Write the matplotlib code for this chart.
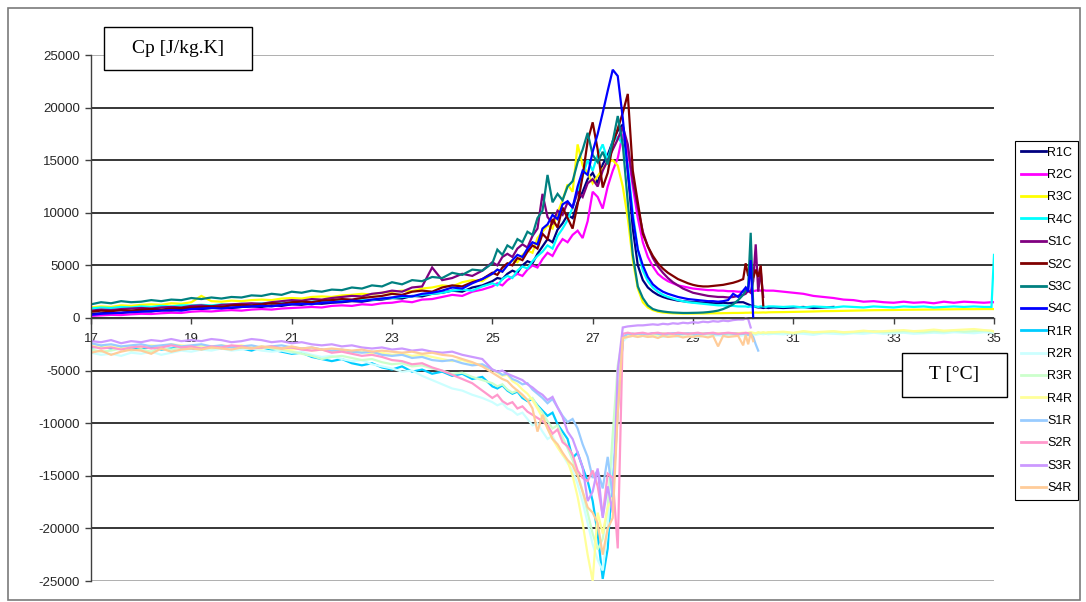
import numpy as np
import matplotlib
matplotlib.use("Agg")
import matplotlib.pyplot as plt
from matplotlib.patches import Rectangle

plt.rcParams["font.family"] = ["Liberation Sans", "DejaVu Sans"]
plt.rcParams["axes.unicode_minus"] = False

NA = np.nan

# Temperature sampling [°C]
T_LOW = [17.0, 17.2, 17.4, 17.6, 17.8, 18.0, 18.2, 18.4, 18.6, 18.8,
         19.0, 19.2, 19.4, 19.6, 19.8, 20.0, 20.2, 20.4, 20.6, 20.8,
         21.0, 21.2, 21.4, 21.6, 21.8, 22.0, 22.2, 22.4, 22.6, 22.8,
         23.0, 23.2, 23.4, 23.6, 23.8, 24.0, 24.2, 24.4, 24.6, 24.8]
T_MID = [25.0, 25.1, 25.2, 25.3, 25.4, 25.5, 25.6, 25.7, 25.8, 25.9,
         26.0, 26.1, 26.2, 26.3, 26.4, 26.5, 26.6, 26.7, 26.8, 26.9,
         27.0, 27.1, 27.2, 27.3, 27.4, 27.5, 27.6, 27.7, 27.8, 27.9,
         28.0, 28.1, 28.2, 28.3, 28.4, 28.5, 28.6, 28.7, 28.8, 28.9,
         29.0, 29.1, 29.2, 29.3, 29.4, 29.5, 29.6, 29.7, 29.8, 29.9,
         30.0]
T_END = [30.05, 30.1, 30.15, 30.2, 30.25, 30.3, 30.35, 30.4, 30.45, 30.5]
T_TAIL = [30.6, 30.8, 31.0, 31.2, 31.4, 31.6, 31.8, 32.0, 32.2, 32.4,
          32.6, 32.8, 33.0, 33.2, 33.4, 33.6, 33.8, 34.0, 34.2, 34.4,
          34.6, 34.8, 34.95, 35.0]

# ---- heating runs, Cp [J/kg.K] ----
R1C = [400, 450, 500, 480, 600,
       650, 620, 750, 700, 820,
       900, 850, 950, 1000, 950,
       1050, 1100, 1050, 1200, 1150,
       1300, 1250, 1400, 1350, 1450,
       1500, 1600, 1550, 1700, 1750,
       1900, 1850, 2100, 2050, 2300,
       2400, 2600, 2500, 2900, 3100,
       3500, 3800, 3700, 4200, 4500, 4300, 5000, 5400, 5200, 6100,
       6800, 7500, 7200, 8400, 9000, 9800, 9500, 11000, 12000, 13200,
       13800, 12800, 14600, 15500, 16800, 17800, 18400, 14000, 8500, 5000,
       3600, 2900, 2500, 2200, 2000, 1850, 1750, 1650, 1600, 1550,
       1500, 1500, 1450, 1450, 1400, 1400, 1450, 1400, 1450, 1500,
       1500,
       1400, 1300, 1200, 1100, 1050, 1000, 1000, 950, 1000, 950]
R1C_TAIL = [1000, 950, 1000, 1050, 950, 1000, 1050]

R2C = [200, 250, 300, 280, 350,
       400, 380, 450, 500, 480,
       600, 650, 620, 700, 750,
       700, 800, 850, 800, 900,
       950, 1000, 1050, 1000, 1150,
       1200, 1150, 1300, 1250, 1400,
       1450, 1600, 1500, 1750, 1800,
       2000, 2200, 2100, 2500, 2700,
       3000, 3300, 3100, 3600, 3900, 4200, 4000, 4600, 5000, 4800,
       5600, 6200, 5900, 6800, 7500, 7200, 7900, 8300, 7600, 9200,
       12000, 11500, 10400, 12500, 14000, 15200, 17500, 16000, 12500, 9500,
       7200, 5800, 4900, 4200, 3800, 3500, 3300, 3100, 3000, 2900,
       2800, 2750, 2700, 2650, 2650, 2600, 2600, 2550, 2550, 2500,
       2500,
       2550, 2500, 2600, 2550, 2600, 2650, 2600, 2650, 2600, 2600]
R2C_TAIL = [2600, 2500, 2400, 2300, 2100, 2000, 1900, 1750, 1700, 1550,
            1600, 1500, 1450, 1550, 1450, 1500, 1400, 1550, 1450, 1550,
            1500, 1450, 1500, 1500]

R3C = [1000, 1100, 1050, 1200, 1150,
       1250, 1300, 1250, 1400, 1350,
       1500, 2100, 1600, 1550, 1650,
       1600, 1700, 1750, 1700, 1850,
       1900, 1850, 2000, 2050, 2000,
       2150, 2200, 2300, 2250, 2400,
       2500, 2600, 2550, 2800, 2900,
       3100, 3000, 3400, 3600, 3500,
       4200, 4600, 4400, 5100, 5500, 5300, 6000, 6400, 6200, 7600,
       8200, 8800, 8500, 10000, 11200, 12700, 12000, 16500, 14500, 13800,
       12800, 13500, 14200, 14800, 15000, 14500, 12500, 9500, 5500, 2800,
       1500, 1000, 750, 600, 520, 480, 450, 430, 420, 420,
       420, 430, 430, 440, 450, 450, 460, 470, 480, 480,
       490,
       500, 500, 510, 500, 520, 510, 520, 530, 520, 540]
R3C_TAIL = [550, 560, 580, 600, 620, 650, 660, 680, 700, 720,
            740, 750, 760, 780, 790, 800, 810, 820, 830, 840,
            840, 850, 850, 850]

R4C = [900, 1000, 950, 1050, 1000,
       1100, 1050, 1150, 1100, 1200,
       1200, 1250, 1200, 1300, 1250,
       1350, 1300, 1400, 1450, 1400,
       1500, 1450, 1550, 1600, 1550,
       1650, 1700, 1750, 1700, 1850,
       1900, 2000, 2050, 2200, 2300,
       2400, 2600, 2700, 2600, 3000,
       3300, 3100, 3700, 4000, 3800, 4500, 4900, 4700, 5400, 5900,
       6300, 6900, 6600, 7800, 8500, 9300, 10500, 12000, 13500, 15000,
       14000, 15500, 16500, 15000, 16800, 17200, 16500, 14500, 10000, 6500,
       4500, 3500, 2900, 2500, 2200, 2000, 1850, 1700, 1600, 1500,
       1450, 1400, 1350, 1300, 1250, 1200, 1200, 1150, 1150, 1100,
       1100,
       1100, 1050, 1100, 1050, 1100, 1050, 1100, 1100, 1050, 1100]
R4C_TAIL = [1100, 1050, 1100, 1000, 1100, 1050, 1000, 1100, 1050, 1000,
            1100, 1050, 1000, 1100, 1050, 1100, 1000, 1050, 1100, 1050,
            1100, 1050, 1050, 6000]

S1C = [700, 800, 750, 850, 900,
       950, 900, 1000, 1050, 1000,
       1150, 1200, 1100, 1250, 1300,
       1350, 1400, 1350, 1500, 1600,
       1700, 1650, 1800, 1750, 1900,
       2000, 2100, 2050, 2300, 2400,
       2600, 2500, 2900, 3000, 4800,
       3600, 3800, 4200, 4000, 4500,
       5300, 5000, 5800, 6100, 5800, 6600, 7000, 6700, 7800, 8500,
       11800, 9600, 9000, 10200, 9800, 11000, 10500, 12000, 11500, 12800,
       13200, 12500, 14000, 15000, 16000, 17000, 18200, 16500, 13000, 10500,
       8200, 6800, 5700, 4900, 4300, 3800, 3400, 3100, 2800, 2600,
       2400, 2300, 2200, 2100, 2050, 2000, 2000, 1950, 2000, 2100,
       2200,
       2300, 2600, 2400, 3500, 7000, 2500, 4500, 2000, NA, NA]

S2C = [600, 700, 650, 750, 700,
       800, 850, 800, 900, 950,
       1000, 1050, 1100, 1050, 1200,
       1250, 1200, 1300, 1400, 1350,
       1500, 1550, 1500, 1650, 1700,
       1800, 1750, 1900, 2000, 2100,
       2300, 2200, 2500, 2600, 2500,
       2900, 3100, 3000, 3400, 3700,
       4300, 4100, 4800, 5200, 5000, 5700, 5500, 6300, 6900, 6600,
       8000, 7500, 9400, 8600, 10500, 9500, 8500, 10800, 13500, 16800,
       18600, 16000, 12400, 13800, 16500, 18000, 19500, 21300, 14000, 11000,
       8000, 6800, 5900, 5200, 4700, 4300, 4000, 3700, 3500, 3300,
       3150, 3050, 3000, 3000, 3050, 3100, 3150, 3250, 3350, 3500,
       3700,
       5200, 4000, 4300, 3800, 4600, 3900, 5000, 1200, NA, NA]

S3C = [1300, 1500, 1400, 1600, 1500,
       1550, 1700, 1600, 1750, 1700,
       1900, 1800, 1950, 1850, 2000,
       1950, 2150, 2100, 2300, 2200,
       2500, 2400, 2600, 2500, 2700,
       2650, 2900, 2800, 3100, 3000,
       3400, 3200, 3600, 3500, 3900,
       3800, 4300, 4100, 4600, 4500,
       5200, 6500, 6000, 6900, 6600, 7500, 7200, 8200, 7900, 9500,
       10200, 13600, 11000, 11800, 11200, 12500, 13000, 14800, 16000, 17600,
       15500, 14800, 15800, 14600, 16800, 19200, 16500, 11000, 6000, 3000,
       1900, 1200, 850, 700, 620, 560, 520, 500, 480, 480,
       490, 500, 520, 560, 620, 700, 850, 1050, 1300, 1700,
       2200,
       2600, 3000, 8100, 1200, NA, NA, NA, NA, NA, NA]

S4C = [300, 400, 450, 500, 550,
       600, 650, 700, 750, 700,
       850, 900, 950, 900, 1000,
       1050, 1100, 1150, 1100, 1250,
       1300, 1350, 1300, 1450, 1500,
       1550, 1650, 1600, 1750, 1850,
       1950, 2100, 2050, 2300, 2400,
       2600, 2900, 2800, 3300, 3700,
       4200, 4600, 4400, 5000, 5500, 6000, 5800, 6600, 7200, 7000,
       8500, 8900, 9800, 9400, 10800, 11100, 10500, 12500, 14000, 13600,
       15800, 17500, 19500, 21600, 23600, 23000, 19000, 14000, 9500, 6500,
       5000, 3900, 3200, 2800, 2500, 2300, 2150, 2000, 1900, 1800,
       1750, 1700, 1650, 1600, 1600, 1550, 1600, 1700, 2300, 2000,
       2600,
       2900, 2500, 5500, 0, NA, NA, NA, NA, NA, NA]

# ---- cooling runs, Cp [J/kg.K] ----
R1R = [-2800, -2700, -2900, -2800, -3000,
       -2900, -2800, -3000, -2900, -2800,
       -2900, -3000, -2800, -2900, -2700,
       -2900, -3100, -2800, -3000, -3200,
       -3400, -3300, -3700, -3900, -4100,
       -3900, -4300, -4500, -4300, -4700,
       -4900, -4600, -5100, -4900, -5300,
       -5100, -5500, -5300, -5800, -5600,
       -6500, -6700, -6400, -6900, -7200, -7000, -7600, -7900, -7700, -8300,
       -8800, -9300, -9000, -10100, -10800, -11500, -13300, -12800, -14200, -15500,
       -17400, -20500, -24800, -21900, -14200, -7900, -2200, -1600, -1500, -1600,
       -1500, -1600, -1450, -1550, -1500, -1600, -1500, -1450, -1550, -1500,
       -1600, -1500, -1550, -1450, -1500, -1600, -1500, -1550, -1500, -1450,
       -1500,
       -1550, -1500, -1600, NA, NA, NA, NA, NA, NA, NA]

R2R = [-3300, -3500, -3400, -3600, -3300,
       -3400, -3200, -3500, -3300, -3100,
       -3200, -3000, -3100, -2900, -3100,
       -3000, -2900, -3100, -3200, -3100,
       -3300, -3200, -3500, -3700, -3600,
       -3900, -4100, -4000, -4400, -4600,
       -4800, -5100, -5000, -5500, -5900,
       -6300, -6700, -6900, -7300, -7600,
       -8000, -8300, -8100, -8600, -8800, -9200, -9000, -9600, -10200, -10000,
       -10800, -11500, -11200, -12200, -13000, -13800, -14500, -15800, -17500, -19500,
       -21500, -23000, -24000, -20000, -13000, -6000, -2200, -1800, -1700, -1800,
       -1700, -1800, -1750, -1700, -1800, -1750, -1700, -1800, -1750, -1700,
       -1750, -1800, -1700, -1750, -1700, -1650, -1700, -1750, -1650, -1700,
       -1650,
       -1600, -1650, -1600, -1550, -1600, -1550, -1500, -1550, -1500, -1550]
R2R_TAIL = [-1500, -1550, -1450, -1500, -1600, -1450, -1500, -1550, -1450, -1500,
            -1400, -1500, -1450, -1400, -1500, -1450, -1400, -1450, -1350, -1400,
            -1450, -1350, -1400, -1400]

R3R = [-3000, -3200, -3100, -2900, -3100,
       -3000, -3200, -2900, -3000, -2800,
       -2900, -2700, -2900, -2800, -2700,
       -2800, -2900, -2700, -2900, -3000,
       -3200, -3400, -3600, -3900, -3700,
       -3600, -3800, -4000, -3900, -4200,
       -4400, -4300, -4600, -4500, -4800,
       -5000, -5300, -5200, -5600, -5900,
       -6200, -6500, -6300, -6800, -7100, -6900, -7400, -7800, -7600, -8400,
       -9000, -9800, -10500, -10200, -11300, -12400, -13500, -14800, -16500, -18500,
       -20500, -22000, -21000, -18000, -11000, -4500, -1900, -1600, -1500, -1600,
       -1500, -1550, -1600, -1500, -1450, -1550, -1500, -1600, -1500, -1450,
       -1500, -1550, -1450, -1500, -1600, -1500, -1450, -1500, -1550, -1500,
       -1450,
       -1500, -1450, -1400, -1450, -1500, -1400, -1450, -1400, -1450, -1400]
R3R_TAIL = [-1400, -1350, -1450, -1300, -1400, -1350, -1300, -1400, -1350, -1300,
            -1250, -1350, -1300, -1250, -1300, -1350, -1250, -1300, -1200, -1300,
            -1250, -1200, -1250, -1250]

R4R = [-2600, -2800, -2700, -2900, -2700,
       -2800, -2600, -2700, -2500, -2600,
       -2700, -2600, -2800, -2600, -2700,
       -2600, -2800, -2900, -2700, -2900,
       -3000, -2900, -3100, -3000, -3200,
       -3100, -3300, -3200, -3400, -3300,
       -3500, -3400, -3600, -3500, -3700,
       -3900, -4100, -4000, -4300, -4500,
       -4900, -5200, -5500, -5400, -6000, -6300, -6800, -7200, -7800, -8600,
       -9500, -10500, -11500, -12300, -13000, -13600, -15000, -17000, -19500, -22500,
       -25000, -18500, -20500, -18000, -17000, -9000, -2000, -1700, -1600, -1700,
       -1600, -1650, -1550, -1600, -1500, -1550, -1600, -1500, -1550, -1500,
       -1550, -1500, -1450, -1550, -1500, -1450, -1500, -1450, -1500, -1450,
       -1400,
       -1450, -1400, -1350, -1400, -1450, -1350, -1400, -1350, -1400, -1350]
R4R_TAIL = [-1350, -1300, -1400, -1250, -1350, -1300, -1250, -1350, -1300, -1200,
            -1300, -1250, -1200, -1150, -1250, -1200, -1100, -1200, -1150, -1100,
            -1050, -1150, -1200, -1300]

S1R = [-2400, -2600, -2500, -2700, -2600,
       -2500, -2700, -2600, -2500, -2700,
       -2600, -2500, -2700, -2600, -2800,
       -2700, -2600, -2800, -2700, -2600,
       -2800, -2900, -2800, -3000, -3100,
       -3000, -3200, -3300, -3200, -3500,
       -3600, -3500, -3800, -3700, -4000,
       -4100, -4000, -4300, -4500, -4400,
       -4900, -5100, -5400, -5300, -5800, -6000, -6300, -6200, -6800, -7200,
       -7600, -8100, -7700, -8500, -9300, -9900, -9600, -10500, -12000, -13200,
       -15200, -14500, -16200, -13200, -17000, -9000, -1800, -1500, -1600, -1500,
       -1500, -1550, -1450, -1500, -1600, -1500, -1450, -1550, -1500, -1450,
       -1500, -1550, -1500, -1450, -1500, -1550, -1500, -1450, -1500, -1550,
       -1500,
       -1550, -1600, -1500, -1800, -2500, -3100, NA, NA, NA, NA]

S2R = [-2700, -2900, -2800, -3000, -2800,
       -2700, -2900, -2800, -2600, -2800,
       -2700, -2900, -2700, -2800, -2600,
       -2700, -2900, -2800, -2700, -2900,
       -2800, -3000, -3100, -3000, -3300,
       -3200, -3400, -3600, -3500, -3700,
       -4000, -4100, -4400, -4300, -4700,
       -5000, -5400, -5800, -6200, -6900,
       -7600, -7300, -7900, -8200, -8000, -8600, -8400, -8900, -9200, -9500,
       -9800, -10200, -11000, -10600, -11800, -12200, -13000, -14500, -15200, -15500,
       -14500, -16000, -18800, -14800, -15200, -21900, -1500, -1400, -1500, -1450,
       -1400, -1500, -1450, -1400, -1500, -1450, -1500, -1400, -1450, -1500,
       -1450, -1400, -1500, -1450, -1400, -1500, -1450, -1400, -1450, -1500,
       -1450,
       -1400, -1450, -1500, NA, NA, NA, NA, NA, NA, NA]

S3R = [-2200, -2300, -2100, -2400, -2200,
       -2300, -2100, -2200, -2000, -2200,
       -2100, -2200, -2000, -2100, -2300,
       -2200, -2000, -2100, -2300, -2200,
       -2400, -2300, -2500, -2600, -2500,
       -2700, -2600, -2800, -2900, -2800,
       -3000, -2900, -3100, -3000, -3200,
       -3300, -3200, -3500, -3700, -3900,
       -4900, -5100, -5000, -5300, -5500, -5700, -5900, -6300, -6600, -7000,
       -7300, -7800, -7500, -8500, -9400, -10800, -11500, -12800, -14200, -17400,
       -16500, -14300, -19000, -16000, -18500, -5000, -900, -800, -750, -700,
       -700, -650, -600, -650, -550, -600, -500, -550, -450, -500,
       -400, -450, -350, -400, -300, -350, -250, -300, -200, -150,
       -150,
       -50, -100, -900, NA, NA, NA, NA, NA, NA, NA]

S4R = [-3300, -3100, -3500, -3200, -3000,
       -3100, -3400, -2900, -3200, -3000,
       -2900, -3000, -2800, -2900, -3000,
       -2800, -2900, -2700, -2800, -2900,
       -2700, -2900, -2800, -3000, -2900,
       -3000, -3100, -3000, -3200, -3100,
       -3200, -3300, -3200, -3400, -3300,
       -3500, -3600, -3900, -4200, -4600,
       -5200, -5500, -5800, -6000, -6500, -6900, -7300, -7800, -8600, -10800,
       -9200, -10500, -11500, -12000, -12800, -13500, -14000, -15000, -16500, -18000,
       -18500, -19500, -22500, -20000, -19000, -9000, -1900, -1800, -1700, -1800,
       -1700, -1800, -1750, -1900, -1700, -1800, -1750, -1700, -1850, -1750,
       -1800, -1700, -1750, -1850, -1700, -2700, -1700, -1800, -1750, -1700,
       -2600,
       -1600, -2500, -1400, -2200, NA, NA, NA, NA, NA, NA]

SERIES = [
    ("R1C", R1C, R1C_TAIL, "#000080"),
    ("R2C", R2C, R2C_TAIL, "#FF00FF"),
    ("R3C", R3C, R3C_TAIL, "#FFFF00"),
    ("R4C", R4C, R4C_TAIL, "#00FFFF"),
    ("S1C", S1C, [], "#800080"),
    ("S2C", S2C, [], "#800000"),
    ("S3C", S3C, [], "#008080"),
    ("S4C", S4C, [], "#0000FF"),
    ("R1R", R1R, [], "#00CCFF"),
    ("R2R", R2R, R2R_TAIL, "#CCFFFF"),
    ("R3R", R3R, R3R_TAIL, "#CCFFCC"),
    ("R4R", R4R, R4R_TAIL, "#FFFF99"),
    ("S1R", S1R, [], "#99CCFF"),
    ("S2R", S2R, [], "#FF99CC"),
    ("S3R", S3R, [], "#CC99FF"),
    ("S4R", S4R, [], "#FFCC99"),
]

Y_TICKS = [-25000, -20000, -15000, -10000, -5000, 0, 5000, 10000, 15000, 20000, 25000]
X_TICKS = [17, 19, 21, 23, 25, 27, 29, 31, 33, 35]

T_MAIN = T_LOW + T_MID + T_END

W, H = 1086, 602
fig = plt.figure(figsize=(W / 100, H / 100), dpi=100)


def fx(px):
    return px / W


def fy(py):
    return 1 - py / H


ax = fig.add_axes([fx(91), fy(581), fx(994) - fx(91), fy(55) - fy(581)])

for name, vals, tail, color in SERIES:
    assert len(vals) == len(T_MAIN), name
    x = list(T_MAIN) + list(T_TAIL[:len(tail)])
    y = list(vals) + list(tail)
    ax.plot(x, y, color=color, lw=1.6, label=name, solid_joinstyle="miter")

ax.set_xlim(17, 35)
ax.set_ylim(-25000, 25000)
ax.set_yticks(Y_TICKS)
ax.set_yticklabels([str(v) for v in Y_TICKS])
ax.set_xticks(X_TICKS)
ax.set_xticklabels([str(t) for t in X_TICKS])

ax.set_axisbelow(True)
ax.grid(axis="y", color="black", lw=1.1)
ax.grid(axis="x", visible=False)
grid_lines = ax.yaxis.get_gridlines()
grid_lines[0].set_color("#9a9a9a")
grid_lines[-1].set_color("#9a9a9a")

for side in ("top", "right"):
    ax.spines[side].set_visible(False)
ax.spines["left"].set_color("#404040")
ax.spines["left"].set_linewidth(1.0)
ax.spines["bottom"].set_position(("data", 0))
ax.spines["bottom"].set_color("#404040")
ax.spines["bottom"].set_linewidth(1.0)

ax.tick_params(axis="y", direction="out", length=4, width=1, color="#404040",
               labelsize=9.5, labelcolor="#262626", pad=4)
ax.tick_params(axis="x", direction="out", length=4.5, width=1, color="#404040",
               labelsize=9.5, labelcolor="#262626", pad=6)

leg = ax.legend(loc="upper left", bbox_to_anchor=(fx(1015), fy(141)),
                bbox_transform=fig.transFigure, borderaxespad=0,
                fontsize=9, frameon=True, fancybox=False, framealpha=1,
                edgecolor="black", handlelength=2.0, handletextpad=0.15,
                labelspacing=0.83, borderpad=0.45)
leg.get_frame().set_linewidth(0.8)
for h in leg.get_lines():
    h.set_linewidth(2.0)

# captions in framed boxes
serif = ["Liberation Serif", "DejaVu Serif"]
for (x0, y0, x1, y1), txt in [((104, 27, 252, 70), "Cp [J/kg.K]"),
                              ((902, 353, 1007, 397), "T [°C]")]:
    fig.patches.append(Rectangle((fx(x0), fy(y1)), fx(x1) - fx(x0), fy(y0) - fy(y1),
                                 transform=fig.transFigure, facecolor="white",
                                 edgecolor="black", lw=1.0, zorder=5))
    fig.text(fx((x0 + x1) / 2), fy((y0 + y1) / 2), txt, family=serif, fontsize=14,
             ha="center", va="center", zorder=6)

# outer frame of the chart area
fig.patches.append(Rectangle((fx(8), fy(600)), fx(1080) - fx(8), fy(8) - fy(600),
                             transform=fig.transFigure, fill=False,
                             edgecolor="#7a7a7a", lw=1.2))

fig.savefig("out.png", dpi=100)
